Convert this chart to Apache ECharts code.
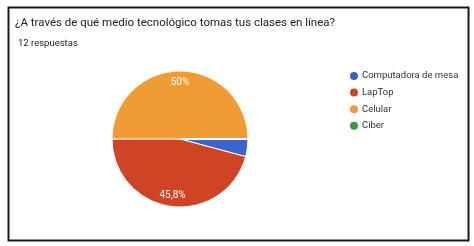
<!DOCTYPE html>
<html><head><meta charset="utf-8">
<script src="https://cdn.jsdelivr.net/npm/echarts@6/dist/echarts.min.js"></script>
<style>html,body{margin:0;padding:0;background:#fff}#c{width:474px;height:246px}</style>
</head><body><div id="c"></div>
<script>
const categories = ['Computadora de mesa', 'LapTop', 'Celular', 'Ciber'];
const values = [0.5, 5.5, 6, 0];
const colors = ['#3c64c8', '#cf4424', '#f09c34', '#3e9a34'];
const titleText = '¿A través de qué medio tecnológico tomas tus clases en línea?';
const subtitleText = '12 respuestas';

const chart = echarts.init(document.getElementById('c'));
const total = values.reduce((a, b) => a + b, 0);
const fmt = p => {
  const pct = p.value / total * 100;
  if (pct < 5) return '';
  return (Math.round(pct * 10) / 10).toString().replace('.', ',') + '%';
};
chart.setOption({
  animation: false,
  color: colors,
  graphic: [{
    type: 'rect', left: 6, top: 5, silent: true,
    shape: { width: 460, height: 233 },
    style: { fill: 'none', stroke: '#1a1a1a', lineWidth: 2 }
  }],
  title: [{
    text: titleText, left: 10, top: 17, padding: [0, 5],
    textStyle: { fontFamily: 'Roboto', fontSize: 11.5, fontWeight: 'normal', color: '#202124' }
  }, {
    text: subtitleText, left: 13, top: 39, padding: [0, 5],
    textStyle: { fontFamily: 'Roboto', fontSize: 9.5, fontWeight: 'normal', color: '#202124' }
  }],
  legend: {
    orient: 'vertical', left: 348, top: 70, itemGap: 4.6, padding: 0,
    icon: 'circle', itemWidth: 10, itemHeight: 10,
    textStyle: { fontFamily: 'Roboto', fontSize: 9.5, color: '#333', padding: [0, 0, 0, -2] },
    data: categories.map((n, i) => ({ name: n, itemStyle: { color: colors[i] } }))
  },
  series: [{
    type: 'pie', center: [180, 139], radius: 68, startAngle: 0, clockwise: true,
    avoidLabelOverlap: false,
    itemStyle: { borderColor: '#fff', borderWidth: 1 },
    label: { show: false }, labelLine: { show: false },
    data: categories.map((n, i) => ({ name: n, value: values[i] }))
  }, {
    type: 'pie', center: [180, 139], radius: 108, startAngle: 0, clockwise: true,
    silent: true, avoidLabelOverlap: false, legendHoverLink: false,
    itemStyle: { color: 'rgba(0,0,0,0)' },
    label: { show: true, position: 'inside', formatter: fmt,
      fontFamily: 'Roboto', fontSize: 10, color: '#fff' },
    labelLine: { show: false },
    data: categories.map((n, i) => ({ name: n, value: values[i] }))
  }]
});
</script></body></html>
